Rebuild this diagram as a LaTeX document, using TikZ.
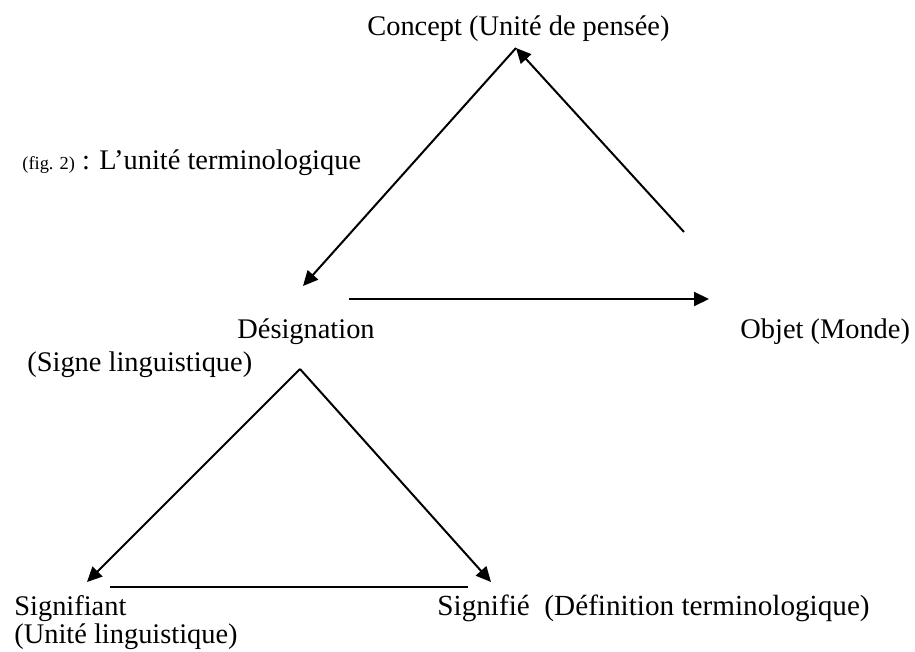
\documentclass[tikz,border=0pt]{standalone}
\usepackage{fontspec}
\setmainfont{Liberation Serif}
\usetikzlibrary{arrows.meta}

\begin{document}
\begin{tikzpicture}[x=0.5pt,y=-0.5pt,
    lbl/.style={anchor=base west,inner sep=0pt,font=\fontsize{14.2}{17}\selectfont},
    link/.style={line width=1pt},
    arr/.style={link,-{Triangle[length=7.5pt,width=7pt]}}]
  \useasboundingbox (0,0) rectangle (915,652);
  % labels
  \node[lbl] (concept) at (367,36) {Concept (Unité de pensée)};
  \node[lbl] (caption) at (22,170) {{\fontsize{9.2}{11}\selectfont (fig. 2)} : L’unité terminologique};
  \node[lbl] (desig) at (237,338) {Désignation};
  \node[lbl] (objet) at (740,338) {Objet (Monde)};
  \node[lbl] (signe) at (27,371) {(Signe linguistique)};
  \node[lbl] (sfiant) at (14,615) {Signifiant};
  \node[lbl] (unite) at (14,643) {(Unité linguistique)};
  \node[lbl,font=\fontsize{14.6}{17}\selectfont] (sfie) at (437,615) {Signifié~~(Définition terminologique)};
  % corners of the upper triangle
  \coordinate (top) at (516,48);
  \coordinate (desigtip) at (303,286);
  \coordinate (objfoot) at (684,232);
  \coordinate (desigfoot) at (349,299);
  \coordinate (objtip) at (709,299);
  % corners of the lower triangle
  \coordinate (apex) at (300,369);
  \coordinate (sfianttip) at (87,582);
  \coordinate (sfietip) at (491,582);
  \coordinate (baseleft) at (110,587);
  \coordinate (baseright) at (468,587);
  % arrows
  \draw[arr] (top) -- (desigtip);
  \draw[arr] (objfoot) -- (top);
  \draw[arr] (desigfoot) -- (objtip);
  \draw[arr] (apex) -- (sfianttip);
  \draw[arr] (apex) -- (sfietip);
  \draw[link] (baseleft) -- (baseright);
\end{tikzpicture}
\end{document}
